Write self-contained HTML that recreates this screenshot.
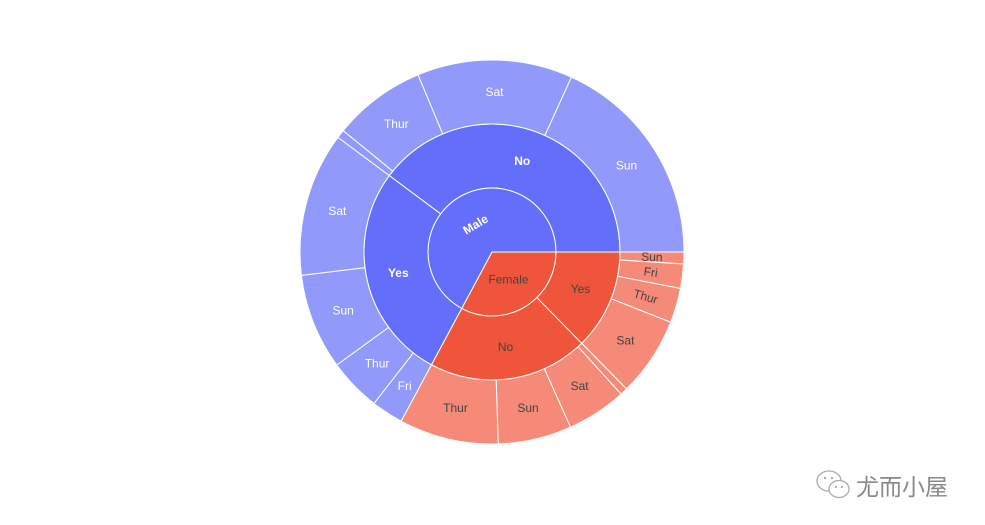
<!DOCTYPE html>
<html><head><meta charset="utf-8"><style>
body{margin:0;background:#fff;width:985px;height:525px;overflow:hidden;position:relative}
svg{position:absolute;left:0;top:0}
.wm{position:absolute;left:856px;top:468px;font:23px "Liberation Sans","Noto Sans CJK SC",sans-serif;color:#888}
</style></head><body>
<svg id="chart" width="985" height="525"></svg>
<svg width="40" height="34" style="left:815px;top:469px">
<ellipse cx="14" cy="12" rx="12" ry="10" fill="none" stroke="#aaa" stroke-width="1.3"/>
<ellipse cx="24" cy="20" rx="10" ry="8.5" fill="#fff" stroke="#aaa" stroke-width="1.3"/>
<circle cx="10" cy="9" r="1.2" fill="#aaa"/><circle cx="17" cy="9" r="1.2" fill="#aaa"/>
<circle cx="21" cy="18" r="1.1" fill="#aaa"/><circle cx="27" cy="18" r="1.1" fill="#aaa"/>
</svg>
<div class="wm">尤而小屋</div>
<script>
// hierarchy, traversed clockwise starting at 3 o'clock
const sexes = ["Female", "Male"];
const smokers = [["Yes", "No"], ["Yes", "No"]];
const dayLabels = [
  [["Sun", "Fri", "Thur", "Sat"], ["Fri", "Sat", "Sun", "Thur"]],
  [["Fri", "Thur", "Sun", "Sat"], ["Fri", "Thur", "Sat", "Sun"]]
];
const dayValues = [
  [[48, 99, 141, 323], [30, 243, 299, 404]],
  [[130, 215, 390, 586], [34, 378, 632, 880]]
];
const cx = 492, cy = 252, R0 = 64, R1 = 128, R2 = 192;
const svg = document.getElementById('chart');
const NS = 'http://www.w3.org/2000/svg';
let total = 0;
dayValues.forEach(s => s.forEach(k => k.forEach(v => total += v)));
const ang = v => v / total * 2 * Math.PI;
function pt(r, a) { return [cx + r * Math.cos(a), cy - r * Math.sin(a)]; }
function wedge(r0, r1, a0, a1, fill, name) {
  const large = (a0 - a1) > Math.PI ? 1 : 0;
  const [x1, y1] = pt(r1, a0), [x2, y2] = pt(r1, a1);
  let d;
  if (r0 === 0) d = `M${cx},${cy}L${x1},${y1}A${r1},${r1} 0 ${large} 1 ${x2},${y2}Z`;
  else {
    const [x3, y3] = pt(r0, a1), [x4, y4] = pt(r0, a0);
    d = `M${x1},${y1}A${r1},${r1} 0 ${large} 1 ${x2},${y2}L${x3},${y3}A${r0},${r0} 0 ${large} 0 ${x4},${y4}Z`;
  }
  const p = document.createElementNS(NS, 'path');
  p.setAttribute('d', d); p.setAttribute('fill', fill);
  p.setAttribute('stroke', '#fff'); p.setAttribute('stroke-width', '1');
  
  
  svg.appendChild(p);
}
const labels = [];
function label(txt, r, a0, a1, color, mode, name) {
  const mid = (a0 + a1) / 2;
  const [x, y] = pt(r, mid);
  const t = document.createElementNS(NS, 'text');
  t.textContent = txt;
  t.setAttribute('x', x); t.setAttribute('y', y + 4);
  t.setAttribute('text-anchor', 'middle');
  t.setAttribute('fill', color);
  t.setAttribute('font-family', 'Liberation Sans, sans-serif');
  t.setAttribute('font-size', '12');
  if (color === '#fff') t.setAttribute('font-weight', txt === 'Male' || txt === 'No' || txt === 'Yes' ? 'bold' : 'normal');
  const deg = mid * 180 / Math.PI;
  if (mode === 'radial') t.setAttribute('transform', `rotate(${-deg} ${x} ${y})`);
  if (mode === 'tangential') t.setAttribute('transform', `rotate(${-(deg - 90)} ${x} ${y})`);
  
  
  labels.push(t);
}
const colors = {Male: ['#636efa', '#636efa', '#9199fb'], Female: ['#ef553b', '#ef553b', '#f48a77']};
let a = 0;
sexes.forEach((sex, i) => {
  const col = colors[sex], tc = sex === 'Male' ? '#fff' : '#444';
  let sSum = 0; dayValues[i].forEach(k => k.forEach(v => sSum += v));
  const sa0 = a, sa1 = a - ang(sSum);
  wedge(0, R0, sa0, sa1, col[0], 'sector-' + sex.toLowerCase());
  label(sex, 32, sa0, sa1, tc, sex === 'Male' ? 'tangential' : 'h', 'label-' + sex.toLowerCase());
  smokers[i].forEach((sm, j) => {
    let kSum = 0; dayValues[i][j].forEach(v => kSum += v);
    const ka0 = a, ka1 = a - ang(kSum);
    wedge(R0, R1, ka0, ka1, col[1], `sector-${sex.toLowerCase()}-${sm.toLowerCase()}`);
    label(sm, 96, ka0, ka1, tc, 'h', `label-${sex.toLowerCase()}-${sm.toLowerCase()}`);
    dayLabels[i][j].forEach((d, k) => {
      const v = dayValues[i][j][k];
      const da0 = a, da1 = a - ang(v);
      const nm = `${sex.toLowerCase()}-${sm.toLowerCase()}-${d.toLowerCase()}`;
      wedge(R1, R2, da0, da1, col[2], 'sector-' + nm);
      const span = (da0 - da1) * 180 / Math.PI;
      const midDeg = (da0 + da1) / 2 * 180 / Math.PI;
      const radial = span < 12 && midDeg > -45 && midDeg < 45;
      if (span > 3) label(d, 160, da0, da1, tc, radial ? 'radial' : 'h', 'label-' + nm);
      a = da1;
    });
  });
});
labels.forEach(t => svg.appendChild(t));
</script>
</body></html>
